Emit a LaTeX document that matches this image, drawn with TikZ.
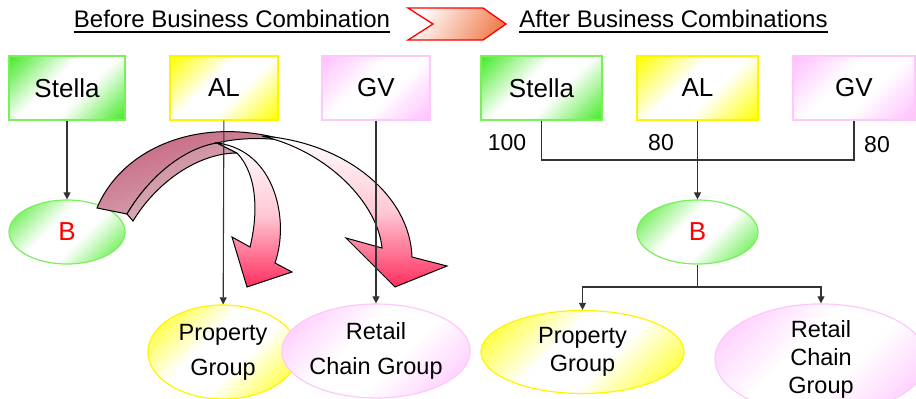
\documentclass[tikz,border=0pt]{standalone}
\usepackage{fontspec}
\setmainfont{Liberation Sans}
\usetikzlibrary{shapes.geometric, arrows.meta, positioning}

\definecolor{stellagreen}{RGB}{70,235,40}
\definecolor{stellaline}{RGB}{120,240,90}
\definecolor{alyellow}{RGB}{255,255,0}
\definecolor{alline}{RGB}{255,245,0}
\definecolor{gvpink}{RGB}{255,190,255}
\definecolor{gvline}{RGB}{255,200,250}
\definecolor{rosedark}{RGB}{196,88,118}
\definecolor{rosemid}{RGB}{206,140,156}
\definecolor{roselight}{RGB}{216,180,188}
\definecolor{arrowred}{RGB}{255,45,95}
\definecolor{arrowpink}{RGB}{255,200,212}
\definecolor{chevfill}{RGB}{240,130,85}
\colorlet{tintcol}{white}

% corner colour, white across the middle
\pgfdeclareverticalshading[tintcol]{tintshade}{100bp}{color(0bp)=(tintcol); color(15bp)=(tintcol);
  color(42bp)=(white); color(58bp)=(white); color(85bp)=(tintcol); color(100bp)=(tintcol)}

\begin{document}
\begin{tikzpicture}[
    x=1pt, y=-1pt,
    firm/.style={
      rectangle, inner sep=0pt,
      minimum height=64pt, line width=1.2pt,
      font=\fontsize{26}{30}\selectfont
    },
    grp/.style={
      ellipse, inner sep=0pt,
      line width=1.2pt, align=center
    },
    tint/.style={/utils/exec={\colorlet{tintcol}{#1}}, shade, shading=tintshade, shading angle=45},
    heading/.style={inner sep=0pt, font=\fontsize{24}{28}\selectfont},
    uline/.style={line width=1.5pt},
    conn/.style={draw=black!80, line width=1.1pt},
    arr/.style={conn, -{Triangle[length=7pt, width=7pt]}},
    pct/.style={inner sep=0pt, font=\fontsize{23}{26}\selectfont},
    swoopback/.style={draw=black, line width=1pt, top color=#1, bottom color=roselight, shading angle=20},
    swoop/.style={draw=black, line width=1pt, top color=white, bottom color=arrowred, middle color=arrowpink},
    chevron/.style={draw=red, line width=1.3pt, left color=white, right color=chevfill, shading angle=60}
  ]
  \useasboundingbox (0,0) rectangle (916,399);
  \clip (0,0) rectangle (916,399);

  % headings
  \node[heading, anchor=base] (before) at (232,27) {Before Business Combination};
  \node[heading, anchor=base] (after) at (673.5,27) {After Business Combinations};
  \draw[uline] ([yshift=-5pt]before.base west) -- ([yshift=-5pt]before.base east);
  \draw[uline] ([yshift=-5pt]after.base west) -- ([yshift=-5pt]after.base east);
  \draw[chevron] (408,8) -- (483,8) -- (506,24) -- (483,40) -- (408,40) -- (433,24) -- cycle;

  % before
  \node[firm, draw=stellaline, tint=stellagreen, minimum width=116pt] (bStella) at (67,88) {Stella};
  \node[firm, draw=alline, tint=alyellow, minimum width=108pt] (bAL) at (224,88) {AL};
  \node[firm, draw=gvline, tint=gvpink, minimum width=108pt] (bGV) at (376,88) {GV};

  \node[grp, draw=stellaline, tint=stellagreen, minimum width=116pt, minimum height=64pt,
        font=\fontsize{26}{30}\selectfont, text=red] (bB) at (67,232) {B};
  \node[grp, draw=alline, tint=alyellow, minimum width=150pt, minimum height=94pt,
        font=\fontsize{23.5}{35}\selectfont] (bProp) at (223,352) {Property\\Group};
  \node[grp, draw=gvline, tint=gvpink, minimum width=160pt, minimum height=94pt,
        font=\fontsize{23.5}{35}\selectfont] (bRetail) at (376,351) {Retail\\Chain Group};

  % curved block arrows
  \draw[swoopback=rosedark] (97,208) .. controls (122,148) and (200,114) .. (288,141)
    .. controls (262,137) and (238,138) .. (217,143)
    .. controls (185,150) and (150,175) .. (127,214) -- cycle;
  \draw[swoop] (262,136) .. controls (345,142) and (410,195) .. (412,257) -- (447,266)
    -- (395,287) -- (346,238) -- (382,248) .. controls (378,205) and (330,152) .. (262,136) -- cycle;
  \draw[swoopback=rosemid] (127,214) .. controls (150,175) and (185,148) .. (217,143) -- (237,153)
    .. controls (200,153) and (158,180) .. (133,221) -- cycle;
  \draw[swoop] (217,143) .. controls (275,150) and (290,220) .. (275,263) -- (292,272)
    -- (247,287) -- (232,237) -- (250,247) .. controls (258,215) and (258,175) .. (237,153) -- cycle;

  \draw[arr] (bStella) -- (bB);
  \draw[arr] (bAL)     -- (bProp);
  \draw[arr] (bGV)     -- (bRetail);

  % after
  \node[firm, draw=stellaline, tint=stellagreen, minimum width=121pt] (aStella) at (541.5,88) {Stella};
  \node[firm, draw=alline, tint=alyellow, minimum width=121pt] (aAL) at (697.5,88) {AL};
  \node[firm, draw=gvline, tint=gvpink, minimum width=122pt] (aGV) at (854,88) {GV};

  \node[grp, draw=stellaline, tint=stellagreen, minimum width=121pt, minimum height=64pt,
        font=\fontsize{26}{30}\selectfont, text=red] (aB) at (697.5,232) {B};
  \node[grp, draw=alline, tint=alyellow, minimum width=203pt, minimum height=83pt,
        font=\fontsize{23.5}{28}\selectfont] (aProp) at (582.5,352) {Property\\Group};
  \node[grp, draw=gvline, tint=gvpink, minimum width=212pt, minimum height=96pt,
        font=\fontsize{23.5}{28}\selectfont] (aRetail) at (821,359) {Retail\\Chain\\Group};

  \node[pct] (own1) at (507,143) {100};
  \node[pct] (own2) at (661,143) {80};
  \node[pct] (own3) at (877,145) {80};

  \coordinate (join) at (697.5,160);
  \coordinate (split) at (697.5,287);
  \draw[conn] (aStella) |- (join) -| (aGV);
  \draw[arr]  (aAL)   -- (aB);
  \draw[conn] (aB)    -- (split);
  \draw[arr]  (split) -| (aProp);
  \draw[arr]  (split) -| (aRetail);
\end{tikzpicture}
\end{document}
